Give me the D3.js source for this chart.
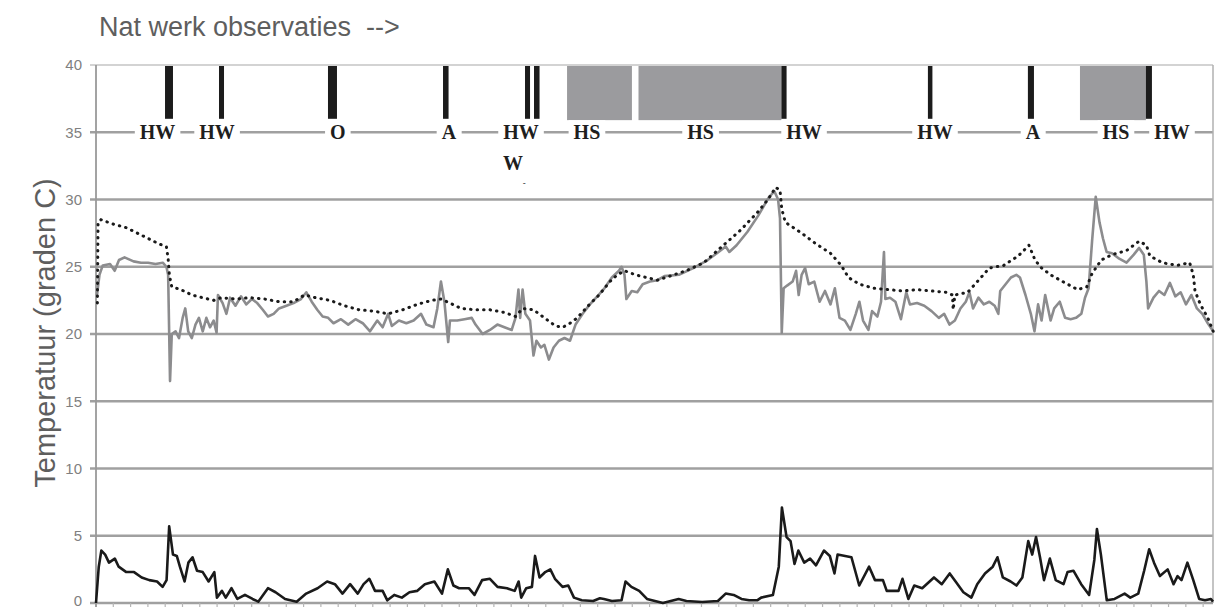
<!DOCTYPE html>
<html>
<head>
<meta charset="utf-8">
<script src="https://cdn.jsdelivr.net/npm/d3@7"></script>
<style>
  body { margin: 0; background: #fff; }
  svg { display: block; }
</style>
</head>
<body>
<svg id="chart"></svg>
<script>
// tijd in tick-eenheden, temperatuur in graden C
var binnen = [[0.05,22.8],[0.2,24.4],[0.39,25.1],[0.81,25.2],[1.08,24.7],[1.33,25.5],[1.65,25.7],[2.17,25.4],[2.6,25.3],[3.01,25.3],[3.44,25.2],[3.86,25.3],[4.07,25.0],[4.17,24.4],[4.28,16.5],[4.38,20.0],[4.6,20.2],[4.8,19.7],[5.01,21.2],[5.16,21.9],[5.33,20.2],[5.54,19.7],[5.75,20.7],[5.95,21.2],[6.17,20.2],[6.38,21.2],[6.59,20.5],[6.8,21.0],[6.97,20.1],[7.05,22.9],[7.32,22.3],[7.54,21.5],[7.75,22.7],[8.06,22.1],[8.38,22.8],[8.69,22.2],[9.01,22.6],[9.32,22.3],[9.64,21.8],[9.94,21.3],[10.27,21.5],[10.58,21.9],[11.01,22.1],[11.42,22.3],[11.85,22.6],[12.16,23.1],[12.47,22.4],[12.79,21.8],[13.1,21.3],[13.42,21.2],[13.73,20.8],[14.16,21.1],[14.58,20.7],[15.0,21.1],[15.42,20.8],[15.84,20.2],[16.26,21.0],[16.57,20.5],[16.89,21.5],[17.1,20.6],[17.51,21.0],[17.94,20.8],[18.36,21.0],[18.79,21.5],[19.1,20.7],[19.51,20.5],[19.73,21.9],[19.94,23.9],[20.14,22.4],[20.36,19.4],[20.46,21.0],[20.88,21.0],[21.3,21.1],[21.72,21.2],[21.94,20.7],[22.35,20.0],[22.77,20.3],[23.2,20.7],[23.61,20.5],[24.03,20.3],[24.25,21.2],[24.42,23.3],[24.52,21.2],[24.66,23.3],[24.82,21.5],[25.09,21.0],[25.29,18.4],[25.46,19.5],[25.72,19.0],[25.92,19.2],[26.18,18.1],[26.45,19.0],[26.76,19.5],[27.08,19.7],[27.4,19.5],[27.72,20.7],[28.13,21.5],[28.55,22.2],[28.98,22.8],[29.39,23.4],[29.82,24.2],[30.23,24.7],[30.38,25.0],[30.55,24.4],[30.66,22.6],[30.97,23.2],[31.29,23.1],[31.6,23.7],[32.02,23.9],[32.45,24.0],[32.86,24.3],[33.69,24.4],[34.53,24.9],[35.36,25.5],[35.99,26.1],[36.4,26.5],[36.61,26.1],[37.03,26.6],[37.66,27.6],[38.28,28.8],[38.91,30.2],[39.22,30.6],[39.43,30.0],[39.54,28.6],[39.64,20.1],[39.75,23.4],[39.95,23.6],[40.27,23.9],[40.47,24.7],[40.62,22.9],[40.79,24.4],[40.99,24.9],[41.2,23.7],[41.52,23.9],[41.83,22.4],[42.14,23.2],[42.46,22.2],[42.71,23.4],[42.98,21.2],[43.29,21.0],[43.61,20.3],[43.92,21.5],[44.13,22.4],[44.34,21.0],[44.65,20.3],[44.86,21.7],[45.17,21.3],[45.38,22.4],[45.55,26.1],[45.63,22.6],[45.9,22.7],[46.21,22.4],[46.53,21.1],[46.84,23.1],[47.05,22.2],[47.46,22.3],[47.88,22.1],[48.3,21.7],[48.72,21.2],[49.03,21.5],[49.34,20.7],[49.65,21.0],[49.97,21.9],[50.28,22.4],[50.49,23.1],[50.7,21.9],[51.01,22.7],[51.32,22.2],[51.64,22.4],[51.95,22.1],[52.16,21.5],[52.27,23.2],[52.58,23.7],[52.89,24.2],[53.2,24.4],[53.41,24.2],[53.73,22.9],[54.04,21.5],[54.25,20.2],[54.46,22.2],[54.66,21.0],[54.87,22.9],[55.18,21.0],[55.39,21.9],[55.71,22.4],[56.02,21.2],[56.34,21.1],[56.65,21.2],[56.96,21.5],[57.17,22.7],[57.38,23.4],[57.58,26.9],[57.79,30.2],[58.01,28.3],[58.21,27.1],[58.42,26.1],[58.73,26.0],[59.15,25.6],[59.57,25.3],[59.99,25.9],[60.3,26.4],[60.57,25.9],[60.72,23.9],[60.82,21.9],[61.13,22.7],[61.45,23.2],[61.76,22.9],[62.08,23.8],[62.39,22.8],[62.7,23.1],[63.01,22.2],[63.32,22.9],[63.64,21.9],[63.95,21.5],[64.27,20.8],[64.58,20.2]];

var stippel = [[0.08,22.3],[0.12,28.3],[0.29,28.5],[0.91,28.2],[1.76,27.9],[2.39,27.5],[3.02,27.1],[3.64,26.7],[4.07,26.5],[4.17,25.6],[4.24,24.4],[4.38,23.5],[4.91,23.3],[5.54,22.9],[6.17,22.7],[6.8,22.5],[7.23,22.7],[8.06,22.6],[8.9,22.7],[9.74,22.6],[10.58,22.4],[11.42,22.4],[12.05,22.9],[12.69,22.7],[13.53,22.5],[14.36,22.1],[15.2,21.8],[16.05,21.7],[16.89,21.5],[17.73,21.8],[18.57,22.2],[19.41,22.5],[19.94,22.6],[20.46,22.3],[21.1,21.9],[21.94,21.8],[22.77,21.8],[23.61,21.6],[24.25,21.3],[24.66,21.9],[25.29,21.8],[25.92,21.2],[26.56,20.6],[26.98,20.5],[27.4,20.8],[27.82,21.2],[28.45,22.1],[29.08,22.9],[29.71,23.9],[30.13,24.4],[30.55,24.7],[31.18,24.4],[31.82,24.2],[32.45,24.0],[34.1,24.7],[35.14,25.3],[36.18,26.5],[37.24,27.7],[38.28,29.1],[38.9,30.1],[39.28,30.9],[39.54,30.7],[39.64,29.3],[39.85,28.3],[40.79,27.5],[41.62,26.7],[42.46,26.0],[43.08,25.1],[43.5,24.2],[44.13,23.7],[44.96,23.4],[45.8,23.3],[46.63,23.2],[47.46,23.3],[48.3,23.2],[49.13,23.1],[49.51,22.9],[49.55,21.8],[49.65,22.9],[50.39,23.1],[50.81,23.7],[51.64,24.9],[52.47,25.1],[53.31,25.8],[53.93,26.6],[54.25,25.6],[54.57,25.0],[55.18,24.4],[56.02,23.8],[56.75,23.3],[57.27,23.5],[57.58,24.5],[58.11,25.5],[58.73,25.9],[59.57,26.2],[60.3,26.9],[60.72,26.6],[60.92,25.8],[61.65,25.3],[62.49,25.1],[63.22,25.3],[63.43,24.4],[63.53,23.2],[63.84,22.2],[64.27,21.2],[64.58,20.2]];

var verschil = [[0,0],[0.16,2.7],[0.31,3.9],[0.53,3.6],[0.75,3.0],[1.09,3.3],[1.31,2.7],[1.75,2.3],[2.2,2.3],[2.64,1.9],[3.08,1.7],[3.53,1.6],[3.85,1.2],[4.08,1.7],[4.23,5.7],[4.45,3.6],[4.67,3.5],[4.85,2.7],[5.12,1.6],[5.34,3.0],[5.58,3.4],[5.84,2.4],[6.17,2.3],[6.51,1.6],[6.84,2.3],[6.99,0.4],[7.28,0.9],[7.5,0.4],[7.83,1.1],[8.17,0.3],[8.61,0.6],[9.05,0.3],[9.38,0.1],[9.94,1.1],[10.38,0.8],[10.93,0.3],[11.6,0.1],[12.15,0.7],[12.81,1.1],[13.36,1.6],[13.81,1.4],[14.25,0.7],[14.69,1.4],[15.13,0.7],[15.47,1.4],[15.8,1.8],[16.13,0.9],[16.57,0.9],[16.84,0.2],[17.24,0.6],[17.68,0.4],[18.12,0.8],[18.56,0.9],[19.01,1.4],[19.56,1.6],[20.0,0.7],[20.34,2.5],[20.66,1.3],[20.99,1.1],[21.55,1.1],[21.88,0.6],[22.32,1.7],[22.77,1.8],[23.21,1.2],[23.76,1.1],[24.2,0.9],[24.43,1.6],[24.58,0.4],[24.87,1.1],[25.2,1.2],[25.38,3.5],[25.64,1.9],[25.97,2.3],[26.26,2.5],[26.53,1.8],[26.97,1.2],[27.3,1.3],[27.63,0.4],[28.08,0.2],[28.74,0.15],[29.13,0.35],[29.36,0.3],[29.82,0.15],[30.38,0.2],[30.61,1.6],[30.95,1.2],[31.4,0.9],[31.85,0.3],[32.77,0],[33.68,0.3],[34.13,0.15],[35.04,0.07],[35.95,0.15],[36.4,0.7],[36.86,0.6],[37.31,0.3],[37.76,0.2],[38.22,0.2],[38.45,0.4],[39.13,0.6],[39.47,2.7],[39.65,7.1],[39.92,4.9],[40.15,4.6],[40.38,2.9],[40.6,3.9],[40.94,3.0],[41.28,3.3],[41.62,2.8],[42.08,3.9],[42.42,3.5],[42.69,2.2],[42.87,3.6],[43.67,3.4],[44.12,1.3],[44.69,2.7],[45.03,1.7],[45.49,1.7],[45.71,0.9],[46.39,0.9],[46.62,1.8],[46.96,0.3],[47.3,1.3],[47.76,1.1],[48.44,1.9],[48.89,1.4],[49.35,2.2],[49.69,1.6],[50.14,0.8],[50.6,0.4],[50.94,1.4],[51.39,2.2],[51.84,2.7],[52.11,3.4],[52.42,1.9],[52.87,1.6],[53.21,1.3],[53.55,1.9],[53.89,4.6],[54.12,3.6],[54.34,4.9],[54.57,3.4],[54.8,1.7],[55.14,3.3],[55.48,1.7],[55.93,1.4],[56.16,2.3],[56.5,2.4],[56.95,1.4],[57.41,0.6],[57.71,3.2],[57.86,5.5],[58.09,3.6],[58.43,0.2],[58.88,0.3],[59.46,0.7],[59.79,0.4],[60.25,0.7],[60.59,2.4],[60.88,4.0],[61.16,3.0],[61.5,2.0],[61.95,2.5],[62.29,1.4],[62.52,2.0],[62.75,1.7],[63.09,3.0],[63.43,1.7],[63.77,0.3],[64.11,0.2],[64.45,0.3],[64.57,0.1]];

// observaties: [begin, eind] in tick-eenheden
var balken = [[3.99,4.45],[7.11,7.4],[13.41,13.93],[20.06,20.38],[24.8,25.09],[25.32,25.64],[39.62,39.92],[48.09,48.35],[53.87,54.22],[60.69,61.04]];
var vlakken = [[27.23,30.98],[31.36,39.62],[56.88,60.69]];
var labels = [[3.56,"HW"],[7.0,"HW"],[13.98,"O"],[20.4,"A"],[24.57,"HW"],[28.38,"HS"],[34.95,"HS"],[40.93,"HW"],[48.5,"HW"],[54.16,"A"],[58.96,"HS"],[62.2,"HW"]];

var yTicks = [0, 5, 10, 15, 20, 25, 30, 35, 40];
var xTicks = d3.range(0, 65);

var W = 1216, H = 607;
var margin = {top: 65, right: 3, bottom: 4, left: 96};
var width = W - margin.left - margin.right;
var height = H - margin.top - margin.bottom;

var svg = d3.select("#chart").attr("width", W).attr("height", H);

svg.append("text")
  .attr("x", 99).attr("y", 36)
  .style("font-family", "Liberation Sans, Arial, sans-serif")
  .style("font-size", "27px")
  .style("fill", "#5e5e5e")
  .style("white-space", "pre")
  .text("Nat werk observaties  -->");

svg.append("text")
  .attr("transform", "translate(55," + 333 + ") rotate(-90)")
  .attr("text-anchor", "middle")
  .style("font-family", "Liberation Sans, Arial, sans-serif")
  .style("font-size", "29px")
  .style("fill", "#5e5e5e")
  .text("Temperatuur (graden C)");

var g = svg.append("g")
  .attr("transform", "translate(" + margin.left + "," + margin.top + ")");

var x = d3.scaleLinear().domain([0, 64.57]).range([0, width]);
var y = d3.scaleLinear().domain([0, 40]).range([height, 0]);

// rasterlijnen
g.append("g")
  .selectAll("line")
  .data(yTicks)
  .enter().append("line")
    .attr("x1", -6).attr("x2", width)
    .attr("y1", function(d) { return y(d); })
    .attr("y2", function(d) { return y(d); })
    .attr("stroke", function(d) { return d == 40 ? "#c4c4c4" : "#a0a0a0"; })
    .attr("stroke-width", function(d) { return d == 40 ? 1.5 : 2.4; });

g.append("g")
  .selectAll("text")
  .data(yTicks)
  .enter().append("text")
    .attr("x", -14)
    .attr("y", function(d) { return y(d); })
    .attr("dy", function(d) { return d == 0 ? "0.2em" : "0.35em"; })
    .attr("text-anchor", "end")
    .style("font-family", "Liberation Sans, Arial, sans-serif")
    .style("font-size", "15px")
    .style("fill", "#808080")
    .text(function(d) { return d; });

// x-as streepjes
g.append("g")
  .selectAll("line")
  .data(xTicks)
  .enter().append("line")
    .attr("x1", function(d) { return x(d); })
    .attr("x2", function(d) { return x(d); })
    .attr("y1", height).attr("y2", height + 6)
    .attr("stroke", "#b5b5b5")
    .attr("stroke-width", 1.2);

g.append("line")
  .attr("x1", 0).attr("x2", 0).attr("y1", 0).attr("y2", height + 4)
  .attr("stroke", "#999").attr("stroke-width", 1.8);
g.append("line")
  .attr("x1", width).attr("x2", width).attr("y1", 0).attr("y2", height)
  .attr("stroke", "#b0b0b0").attr("stroke-width", 1.5);

// observatieband
g.append("g")
  .selectAll("rect")
  .data(vlakken)
  .enter().append("rect")
    .attr("x", function(d) { return x(d[0]); })
    .attr("width", function(d) { return x(d[1]) - x(d[0]); })
    .attr("y", y(40) + 1)
    .attr("height", y(35.9) - y(40) - 1)
    .attr("fill", "#9b9b9e");

g.append("g")
  .selectAll("rect")
  .data(balken)
  .enter().append("rect")
    .attr("x", function(d) { return x(d[0]); })
    .attr("width", function(d) { return x(d[1]) - x(d[0]); })
    .attr("y", y(40) + 1)
    .attr("height", y(36.0) - y(40) - 1)
    .attr("fill", "#1c1c1c");

var lab = g.append("g")
  .selectAll("g")
  .data(labels)
  .enter().append("g")
    .attr("transform", function(d) { return "translate(" + x(d[0]) + "," + y(35) + ")"; });

var labText = lab.append("text")
  .attr("text-anchor", "middle")
  .attr("dy", "0.36em")
  .style("font-family", "Liberation Serif, DejaVu Serif, serif")
  .style("font-weight", "bold")
  .style("font-size", "20px")
  .style("fill", "#1e1e1e")
  .text(function(d) { return d[1]; });

labText.each(function() {
  var b = this.getBBox();
  d3.select(this.parentNode).insert("rect", "text")
    .attr("x", b.x - 5).attr("width", b.width + 10)
    .attr("y", -12).attr("height", 25)
    .attr("fill", "#fff");
});

g.append("text")
  .attr("x", x(24.1)).attr("y", y(35) + 38)
  .attr("text-anchor", "middle")
  .style("font-family", "Liberation Serif, DejaVu Serif, serif")
  .style("font-weight", "bold")
  .style("font-size", "20px")
  .style("fill", "#1e1e1e")
  .text("W");
g.append("text")
  .attr("x", x(24.75)).attr("y", y(35) + 54)
  .attr("text-anchor", "middle")
  .style("font-family", "Liberation Sans, sans-serif")
  .style("font-size", "9px")
  .style("fill", "#333")
  .text("-");

// reeksen
var line = d3.line()
  .x(function(d) { return x(d[0]); })
  .y(function(d) { return y(d[1]); });

g.append("path")
  .datum(binnen)
  .attr("d", line)
  .attr("fill", "none")
  .attr("stroke", "#8c8c8e")
  .attr("stroke-width", 2.6)
  .attr("stroke-linejoin", "round");

g.append("path")
  .datum(stippel)
  .attr("d", line)
  .attr("fill", "none")
  .attr("stroke", "#1a1a1a")
  .attr("stroke-width", 3)
  .attr("stroke-linecap", "round")
  .attr("stroke-dasharray", "0.5,6");

g.append("path")
  .datum(verschil)
  .attr("d", line)
  .attr("fill", "none")
  .attr("stroke", "#1a1a1a")
  .attr("stroke-width", 2.6)
  .attr("stroke-linejoin", "round");
</script>
</body>
</html>
